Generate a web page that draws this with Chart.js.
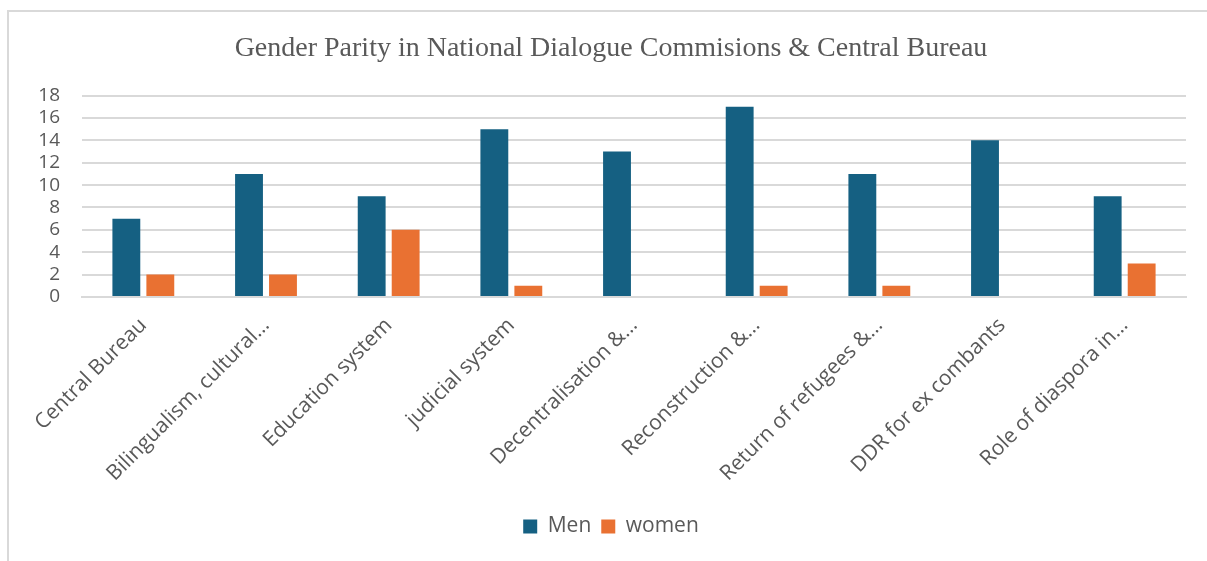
<!DOCTYPE html>
<html>
<head>
<meta charset="utf-8">
<script src="https://cdn.jsdelivr.net/npm/chart.js@4.4.1/dist/chart.umd.min.js"></script>
<style>
  html, body { margin: 0; padding: 0; background: #fff; }
  #frame {
    position: absolute; left: 7px; top: 10px; width: 1210px; height: 560px;
    border: 2px solid #d9d9d9; box-sizing: border-box;
  }
  #wrap { position: absolute; left: 0; top: 0; width: 1207px; height: 561px; }
</style>
</head>
<body>
<div id="frame"></div>
<div id="wrap"><canvas id="chart" width="1207" height="561"></canvas></div>
<script>
// Categories and values
const categories = [
    'Central Bureau',
    'Bilingualism, cultural…',
    'Education system',
    'judicial system',
    'Decentralisation &…',
    'Reconstruction &…',
    'Return of refugees &…',
    'DDR for ex combants',
    'Role of diaspora in…'
];
const menValues = [7, 11, 9, 15, 13, 17, 11, 14, 9];
const womenValues = [2, 2, 6, 1, 0, 1, 1, 0, 3];

const textColor = '#595959';
const gridColor = '#d9d9d9';
const sansFont = "'Open Sans', 'Noto Sans', sans-serif";

const ctx = document.getElementById('chart').getContext('2d');
const chart = new Chart(ctx, {
    type: 'bar',
    data: {
        labels: categories,
        datasets: [
            {
                label: 'Men',
                data: menValues,
                backgroundColor: '#156082',
                categoryPercentage: 0.554,
                barPercentage: 0.82
            },
            {
                label: 'women',
                data: womenValues,
                backgroundColor: '#E97132',
                categoryPercentage: 0.554,
                barPercentage: 0.82
            }
        ]
    },
    options: {
        responsive: false,
        animation: false,
        // left/right padding keeps title and legend centred on the frame
        layout: { padding: { left: 36, right: 21, top: 0, bottom: 14 } },
        plugins: {
            title: {
                display: true,
                text: 'Gender Parity in National Dialogue Commisions & Central Bureau',
                color: textColor,
                font: { family: "'Liberation Serif', 'Times New Roman', serif", size: 28, weight: 'normal' },
                padding: { top: 32, bottom: 30 }
            },
            legend: {
                position: 'bottom',
                labels: {
                    color: textColor,
                    font: { family: sansFont, size: 21 },
                    boxWidth: 14,
                    boxHeight: 14,
                    padding: 10
                }
            },
            tooltip: { enabled: false }
        },
        scales: {
            x: {
                grid: { display: false },
                border: { color: gridColor, width: 2 },
                ticks: {
                    color: textColor,
                    font: { family: sansFont, size: 21 },
                    minRotation: 45,
                    maxRotation: 45,
                    autoSkip: false,
                    padding: 8
                },
                afterFit: (scale) => { scale.height = 209; }
            },
            y: {
                min: 0,
                max: 18,
                grid: { color: gridColor, lineWidth: 2, drawTicks: false },
                border: { display: false },
                ticks: {
                    stepSize: 2,
                    autoSkip: false,
                    color: textColor,
                    font: { family: sansFont, size: 19 },
                    padding: 22
                },
                afterFit: (scale) => { scale.width = 46; }
            }
        }
    }
});
</script>
</body>
</html>
